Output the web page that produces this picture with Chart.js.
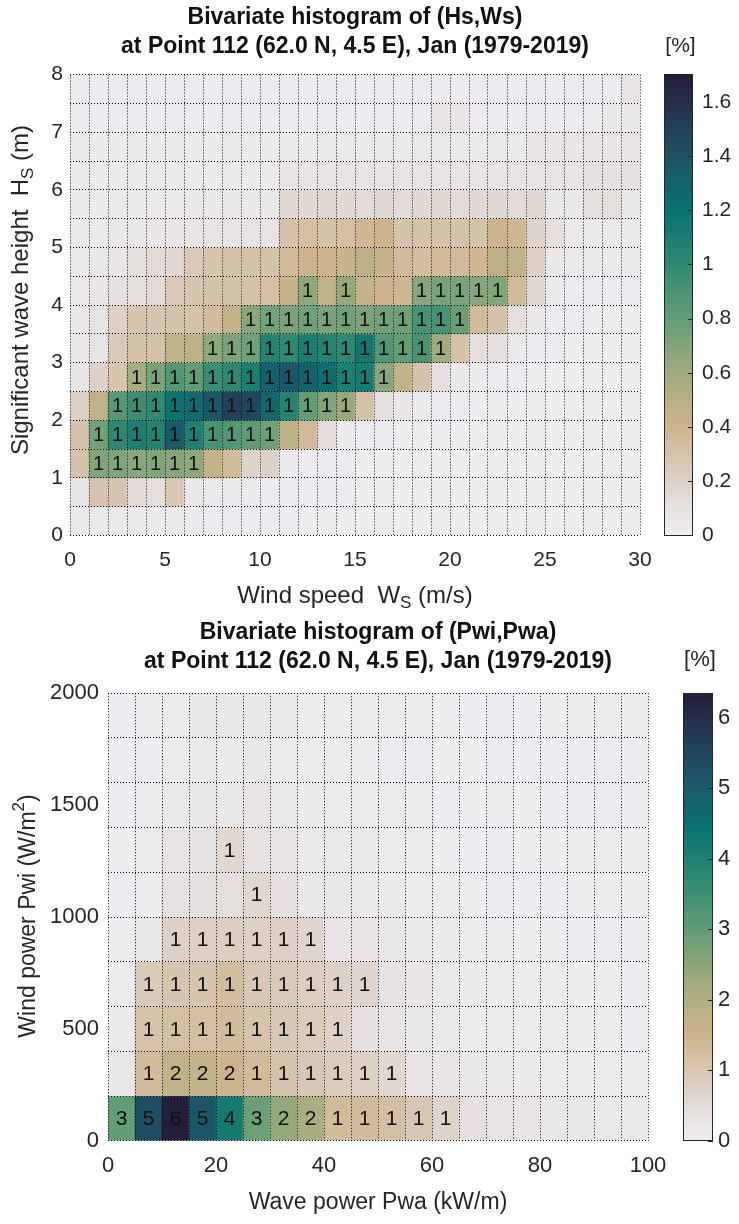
<!DOCTYPE html>
<html>
<head>
<meta charset="utf-8">
<script src="https://cdn.jsdelivr.net/npm/chart.js@4.4.0/dist/chart.umd.min.js"></script>
<style>
  html, body { margin: 0; padding: 0; background: #fff; }
  #wrap { position: relative; width: 739px; height: 1224px; }
  #c1 { position: absolute; left: 0; top: 0; }
  #c2 { position: absolute; left: 0; top: 610px; }
</style>
</head>
<body>
<div id="wrap">
  <canvas id="c1" width="739" height="610"></canvas>
  <canvas id="c2" width="739" height="614"></canvas>
</div>
<script>
// ---- Hs / Ws histogram (percent of records), rows = Hs bins from 0 m upward
const wsEdges = Array.from({ length: 31 }, (_, i) => i);          // 1 m/s bins
const hsEdges = Array.from({ length: 17 }, (_, i) => i * 0.5);    // 0.5 m bins
const wsTickLabels = [0, 5, 10, 15, 20, 25, 30];
const hsTickLabels = [0, 1, 2, 3, 4, 5, 6, 7, 8];
const hsWsCbTicks = [0, 0.2, 0.4, 0.6, 0.8, 1, 1.2, 1.4, 1.6];
const hsWsMax = 1.7;
const hsWsPct = [
  [0.03,0.04,0.04,0.04,0.03,0.03,0.03,0.02,0.02,0.02, 0.02,0.02,0.01,0.01,0.01,0.01,0.01,0.01,0.01,0.01, 0.01,0.01,0.01,0.01,0.01,0.01,0.01,0.01,0.01,0.01],
  [0.07,0.28,0.28,0.14,0.12,0.27,0.05,0.04,0.03,0.03, 0.02,0.02,0.02,0.02,0.02,0.01,0.01,0.01,0.01,0.01, 0.01,0.01,0.01,0.01,0.01,0.01,0.01,0.01,0.01,0.01],
  [0.30,0.70,0.70,0.68,0.70,0.68,0.66,0.44,0.35,0.18, 0.20,0.03,0.02,0.02,0.02,0.01,0.01,0.01,0.01,0.01, 0.01,0.01,0.01,0.01,0.01,0.01,0.01,0.01,0.01,0.01],
  [0.30,0.75,1.00,1.08,1.05,1.35,1.08,0.90,0.86,0.82, 0.76,0.47,0.36,0.13,0.03,0.02,0.02,0.01,0.01,0.01, 0.01,0.01,0.01,0.01,0.01,0.01,0.01,0.01,0.01,0.01],
  [0.20,0.46,0.85,0.95,1.00,1.18,1.24,1.36,1.49,1.46, 1.27,1.06,0.80,0.70,0.62,0.30,0.12,0.06,0.03,0.02, 0.02,0.01,0.01,0.01,0.01,0.01,0.01,0.01,0.01,0.01],
  [0.07,0.20,0.28,0.58,0.72,0.86,0.80,0.95,1.00,1.10, 1.30,1.36,1.30,1.22,1.10,1.12,0.68,0.45,0.30,0.11, 0.05,0.03,0.02,0.02,0.01,0.01,0.01,0.01,0.01,0.01],
  [0.05,0.08,0.25,0.30,0.30,0.46,0.48,0.66,0.72,0.76, 1.05,1.00,1.10,1.05,1.00,1.15,0.86,0.80,0.90,0.60, 0.30,0.12,0.10,0.03,0.02,0.02,0.01,0.01,0.01,0.01],
  [0.05,0.08,0.20,0.28,0.28,0.30,0.30,0.35,0.45,0.68, 0.75,0.72,0.76,0.72,0.76,0.72,0.74,0.76,0.90,0.90, 0.78,0.35,0.30,0.12,0.05,0.02,0.02,0.01,0.01,0.01],
  [0.04,0.06,0.10,0.12,0.14,0.25,0.28,0.30,0.30,0.30, 0.32,0.42,0.66,0.45,0.64,0.45,0.40,0.38,0.68,0.72, 0.72,0.68,0.70,0.35,0.15,0.03,0.02,0.02,0.02,0.02],
  [0.04,0.05,0.06,0.12,0.14,0.15,0.25,0.28,0.30,0.30, 0.30,0.35,0.40,0.40,0.42,0.48,0.42,0.35,0.33,0.35, 0.35,0.38,0.48,0.46,0.20,0.05,0.04,0.03,0.03,0.03],
  [0.04,0.04,0.05,0.05,0.06,0.06,0.07,0.08,0.08,0.08, 0.08,0.30,0.32,0.30,0.32,0.38,0.40,0.30,0.30,0.30, 0.30,0.30,0.40,0.38,0.18,0.12,0.04,0.04,0.04,0.04],
  [0.03,0.03,0.04,0.04,0.04,0.04,0.05,0.05,0.05,0.05, 0.05,0.15,0.15,0.16,0.15,0.14,0.15,0.14,0.15,0.15, 0.14,0.15,0.15,0.14,0.15,0.05,0.05,0.12,0.12,0.05],
  [0.03,0.03,0.03,0.03,0.03,0.03,0.03,0.03,0.03,0.03, 0.03,0.08,0.08,0.08,0.08,0.08,0.08,0.08,0.08,0.08, 0.08,0.08,0.08,0.08,0.08,0.08,0.08,0.10,0.10,0.10],
  [0.03,0.03,0.03,0.03,0.03,0.03,0.03,0.03,0.03,0.03, 0.03,0.03,0.03,0.04,0.04,0.04,0.04,0.04,0.04,0.04, 0.04,0.04,0.04,0.04,0.07,0.07,0.07,0.07,0.07,0.07],
  [0.02,0.02,0.02,0.02,0.02,0.02,0.02,0.02,0.02,0.02, 0.02,0.02,0.02,0.02,0.02,0.02,0.02,0.02,0.02,0.06, 0.06,0.02,0.02,0.02,0.02,0.02,0.02,0.02,0.05,0.05],
  [0.02,0.02,0.02,0.02,0.02,0.02,0.02,0.02,0.02,0.02, 0.02,0.02,0.02,0.02,0.02,0.02,0.02,0.02,0.02,0.02, 0.02,0.02,0.02,0.02,0.02,0.02,0.02,0.02,0.02,0.08]
];

// ---- Pwi / Pwa histogram (percent), rows = Pwi bins from 0 W/m2 upward
const pwaEdges = Array.from({ length: 21 }, (_, i) => i * 5);     // 5 kW/m bins
const pwiEdges = Array.from({ length: 11 }, (_, i) => i * 200);   // 200 W/m2 bins
const pwaTickLabels = [0, 20, 40, 60, 80, 100];
const pwiTickLabels = [0, 500, 1000, 1500, 2000];
const pwCbTicks = [0, 1, 2, 3, 4, 5, 6];
const pwMax = 6.35;
const pwPct = [
  [3.0, 5.3, 6.3, 5.1, 4.2, 2.9, 2.4, 2.1, 1.3, 1.3, 1.2, 1.0, 0.7, 0.4, 0.3, 0.25, 0.2, 0.2, 0.15, 0.15],
  [0.2, 1.3, 1.7, 1.65, 1.55, 1.3, 1.1, 1.0, 0.9, 0.8, 0.6, 0.3, 0.25, 0.2, 0.15, 0.12, 0.1, 0.1, 0.1, 0.08],
  [0.12, 1.1, 1.2, 1.2, 1.3, 1.1, 1.0, 0.9, 0.75, 0.4, 0.3, 0.2, 0.15, 0.1, 0.1, 0.08, 0.08, 0.06, 0.06, 0.05],
  [0.1, 0.95, 1.05, 1.05, 1.25, 1.0, 0.95, 0.85, 0.75, 0.65, 0.35, 0.22, 0.15, 0.12, 0.1, 0.08, 0.08, 0.06, 0.06, 0.05],
  [0.06, 0.2, 0.75, 0.8, 0.85, 0.8, 0.75, 0.65, 0.3, 0.3, 0.2, 0.15, 0.12, 0.1, 0.08, 0.06, 0.06, 0.05, 0.05, 0.05],
  [0.05, 0.1, 0.35, 0.4, 0.45, 0.6, 0.4, 0.2, 0.2, 0.15, 0.12, 0.1, 0.08, 0.06, 0.05, 0.05, 0.05, 0.04, 0.04, 0.04],
  [0.04, 0.08, 0.3, 0.35, 0.6, 0.35, 0.3, 0.15, 0.15, 0.12, 0.1, 0.08, 0.06, 0.05, 0.05, 0.04, 0.04, 0.04, 0.04, 0.04],
  [0.03, 0.06, 0.15, 0.2, 0.2, 0.25, 0.15, 0.12, 0.1, 0.1, 0.08, 0.06, 0.05, 0.04, 0.04, 0.04, 0.03, 0.03, 0.03, 0.03],
  [0.03, 0.05, 0.1, 0.15, 0.12, 0.2, 0.1, 0.1, 0.08, 0.06, 0.05, 0.05, 0.04, 0.04, 0.03, 0.03, 0.03, 0.03, 0.03, 0.03],
  [0.02, 0.04, 0.08, 0.2, 0.2, 0.2, 0.15, 0.1, 0.06, 0.08, 0.08, 0.1, 0.06, 0.05, 0.05, 0.05, 0.04, 0.04, 0.04, 0.04]
];

// colormap (light grey -> tan -> green -> teal -> navy)
const rainStops = [
  [0.00, [239, 238, 242]],
  [0.06, [230, 225, 225]],
  [0.12, [221, 208, 198]],
  [0.235, [205, 180, 142]],
  [0.35, [162, 171, 126]],
  [0.47, [99, 157, 118]],
  [0.59, [47, 136, 115]],
  [0.70, [10, 115, 112]],
  [0.82, [30, 82, 102]],
  [0.94, [37, 48, 76]],
  [1.00, [35, 29, 56]]
];
function rain(t) {
  t = Math.max(0, Math.min(1, t));
  for (let i = 1; i < rainStops.length; i++) {
    const [t1, c1] = rainStops[i];
    if (t <= t1) {
      const [t0, c0] = rainStops[i - 1];
      const f = (t - t0) / (t1 - t0);
      return 'rgb(' + c0.map((c, k) => Math.round(c + (c1[k] - c) * f)).join(',') + ')';
    }
  }
  return 'rgb(35,29,56)';
}

const FONT = '"Liberation Sans", Arial, Helvetica, sans-serif';
const TXT = '#262626';
const GRID = 'rgba(0,0,0,0.95)';

function cells(rows, xEdges, yEdges) {
  const pts = [];
  rows.forEach((row, j) => row.forEach((v, i) => {
    pts.push({ x: (xEdges[i] + xEdges[i + 1]) / 2, y: [yEdges[j], yEdges[j + 1]], v: v });
  }));
  return pts;
}

// text with sub/superscripts, centred on (x, y)
function drawRich(ctx, parts, x, y, size, angle) {
  ctx.save();
  ctx.translate(x, y);
  ctx.rotate(angle || 0);
  ctx.textBaseline = 'middle';
  ctx.textAlign = 'left';
  ctx.fillStyle = TXT;
  const fontOf = p => (p.sub || p.sup ? Math.round(size * 0.72) : size) + 'px ' + FONT;
  let w = 0;
  parts.forEach(p => { ctx.font = fontOf(p); w += ctx.measureText(p.t).width; });
  let cx = -w / 2;
  parts.forEach(p => {
    ctx.font = fontOf(p);
    const dy = p.sub ? size * 0.32 : p.sup ? -size * 0.4 : 0;
    ctx.fillText(p.t, cx, dy);
    cx += ctx.measureText(p.t).width;
  });
  ctx.restore();
}

function heatmap(id, o) {
  const gridTicks = o.yGridTicks || o.yEdges;
  const decor = {
    id: 'decor',
    afterDatasetsDraw(chart) {
      // rounded percentages written in the cells
      const ctx = chart.ctx, xs = chart.scales.x, ys = chart.scales.y;
      ctx.save();
      ctx.font = o.cellFont + 'px ' + FONT;
      ctx.fillStyle = '#111';
      ctx.textAlign = 'center';
      ctx.textBaseline = 'middle';
      chart.data.datasets[0].data.forEach(p => {
        const n = Math.round(p.v);
        if (n >= 1) {
          ctx.fillText(String(n), xs.getPixelForValue(p.x), ys.getPixelForValue((p.y[0] + p.y[1]) / 2) + 1);
        }
      });
      ctx.restore();
    },
    afterDraw(chart) {
      const ctx = chart.ctx, a = chart.chartArea, cb = chart.scales.cb;
      const cx = (a.left + a.right) / 2;
      // titles
      ctx.save();
      ctx.fillStyle = '#111';
      ctx.textAlign = 'center';
      ctx.textBaseline = 'middle';
      ctx.font = 'bold ' + o.titleSize + 'px ' + FONT;
      o.title.forEach((t, i) => ctx.fillText(t, cx, o.titleY[i]));
      ctx.restore();
      // axis titles
      drawRich(ctx, o.xTitle, cx, o.xTitleY, o.labelSize, 0);
      drawRich(ctx, o.yTitle, o.yTitleX, o.yTitleY, o.labelSize, -Math.PI / 2);
      // colour bar
      const top = cb.getPixelForValue(o.vmax), bot = cb.getPixelForValue(0);
      for (let y = Math.floor(top); y < bot; y++) {
        ctx.fillStyle = rain(cb.getValueForPixel(y + 0.5) / o.vmax);
        ctx.fillRect(o.cbX0, y, o.cbX1 - o.cbX0, 1);
      }
      ctx.save();
      ctx.strokeStyle = TXT;
      ctx.lineWidth = 1;
      ctx.strokeRect(o.cbX0 + 0.5, Math.round(top) + 0.5, o.cbX1 - o.cbX0 - 1, Math.round(bot - top) - 1);
      ctx.beginPath();
      cb.ticks.forEach(t => {
        const py = Math.round(cb.getPixelForValue(t.value)) + 0.5;
        ctx.moveTo(o.cbX1 - 5, py);
        ctx.lineTo(o.cbX1, py);
      });
      ctx.stroke();
      ctx.fillStyle = TXT;
      ctx.font = o.tickSize + 'px ' + FONT;
      ctx.textAlign = 'center';
      ctx.textBaseline = 'middle';
      ctx.fillText('[%]', (o.cbX0 + o.cbX1) / 2 + 2, o.unitY);
      ctx.restore();
    }
  };

  return new Chart(document.getElementById(id), {
    type: 'bar',
    data: {
      datasets: [{
        data: cells(o.rows, o.xEdges, o.yEdges),
        backgroundColor: c => rain(c.raw.v / o.vmax),
        borderWidth: 0,
        barPercentage: 1,
        categoryPercentage: 1
      }]
    },
    options: {
      responsive: false,
      animation: false,
      events: [],
      layout: { padding: { top: o.areaTop, left: 0, right: 0, bottom: 0 } },
      plugins: { legend: { display: false }, tooltip: { enabled: false }, title: { display: false } },
      scales: {
        x: {
          type: 'linear', min: o.xEdges[0], max: o.xEdges[o.xEdges.length - 1],
          offset: false,
          grid: { z: 1, color: GRID, lineWidth: 1, drawTicks: false, offset: false },
          border: { display: false, dash: [1, 2] },
          ticks: {
            autoSkip: false, maxRotation: 0, padding: o.xTickPad, color: TXT,
            font: { family: FONT, size: o.tickSize },
            callback: v => o.xLabels.includes(v) ? String(v) : ''
          },
          afterBuildTicks: s => { s.ticks = o.xEdges.map(v => ({ value: v })); },
          afterFit: s => { s.height = o.xAxisH; }
        },
        y: {
          type: 'linear', min: o.yEdges[0], max: o.yEdges[o.yEdges.length - 1],
          grid: { z: 1, color: c => (c.tick && o.yEdges.includes(c.tick.value)) ? GRID : 'rgba(0,0,0,0)', lineWidth: 1, drawTicks: false },
          border: { display: false, dash: [1, 2] },
          ticks: {
            autoSkip: false, padding: o.yTickPad, color: TXT,
            font: { family: FONT, size: o.tickSize },
            callback: v => o.yLabels.includes(v) ? String(v) : ''
          },
          afterBuildTicks: s => { s.ticks = gridTicks.map(v => ({ value: v })); },
          afterFit: s => { s.width = o.yAxisW; }
        },
        cb: {
          type: 'linear', position: 'right', min: 0, max: o.vmax,
          grid: { display: false, drawTicks: false },
          border: { display: false },
          ticks: {
            autoSkip: false, padding: o.cbTickPad, color: TXT,
            font: { family: FONT, size: o.tickSize },
            callback: v => String(v)
          },
          afterBuildTicks: s => { s.ticks = o.cbTicks.map(v => ({ value: v })); },
          afterFit: s => { s.width = o.cbAxisW; }
        }
      }
    },
    plugins: [decor]
  });
}

heatmap('c1', {
  rows: hsWsPct, xEdges: wsEdges, yEdges: hsEdges, vmax: hsWsMax,
  xLabels: wsTickLabels, yLabels: hsTickLabels, cbTicks: hsWsCbTicks,
  areaTop: 68, xAxisH: 72, yAxisW: 70, cbAxisW: 99,
  xTickPad: 12, yTickPad: 7, cbTickPad: 62,
  cbX0: 664, cbX1: 693, unitY: 46,
  tickSize: 21, labelSize: 24, titleSize: 23, cellFont: 20,
  title: ['Bivariate histogram of (Hs,Ws)', 'at Point 112 (62.0 N, 4.5 E), Jan (1979-2019)'],
  titleY: [18, 47],
  xTitle: [{ t: 'Wind speed  W' }, { t: 'S', sub: true }, { t: ' (m/s)' }], xTitleY: 596,
  yTitle: [{ t: 'Significant wave height  H' }, { t: 'S', sub: true }, { t: ' (m)' }], yTitleX: 21, yTitleY: 290
});

heatmap('c2', {
  rows: pwPct, xEdges: pwaEdges, yEdges: pwiEdges, vmax: pwMax,
  yGridTicks: [...new Set(pwiEdges.concat(pwiTickLabels))].sort((a, b) => a - b),
  xLabels: pwaTickLabels, yLabels: pwiTickLabels, cbTicks: pwCbTicks,
  areaTop: 68, xAxisH: 74, yAxisW: 108, cbAxisW: 91,
  xTickPad: 12, yTickPad: 9, cbTickPad: 70,
  cbX0: 683, cbX1: 713, unitY: 50,
  tickSize: 22, labelSize: 23, titleSize: 23, cellFont: 21,
  title: ['Bivariate histogram of (Pwi,Pwa)', 'at Point 112 (62.0 N, 4.5 E), Jan (1979-2019)'],
  titleY: [23, 52],
  xTitle: [{ t: 'Wave power Pwa (kW/m)' }], xTitleY: 593,
  yTitle: [{ t: 'Wind power Pwi (W/m' }, { t: '2', sup: true }, { t: ')' }], yTitleX: 29, yTitleY: 306
});
</script>
</body>
</html>
